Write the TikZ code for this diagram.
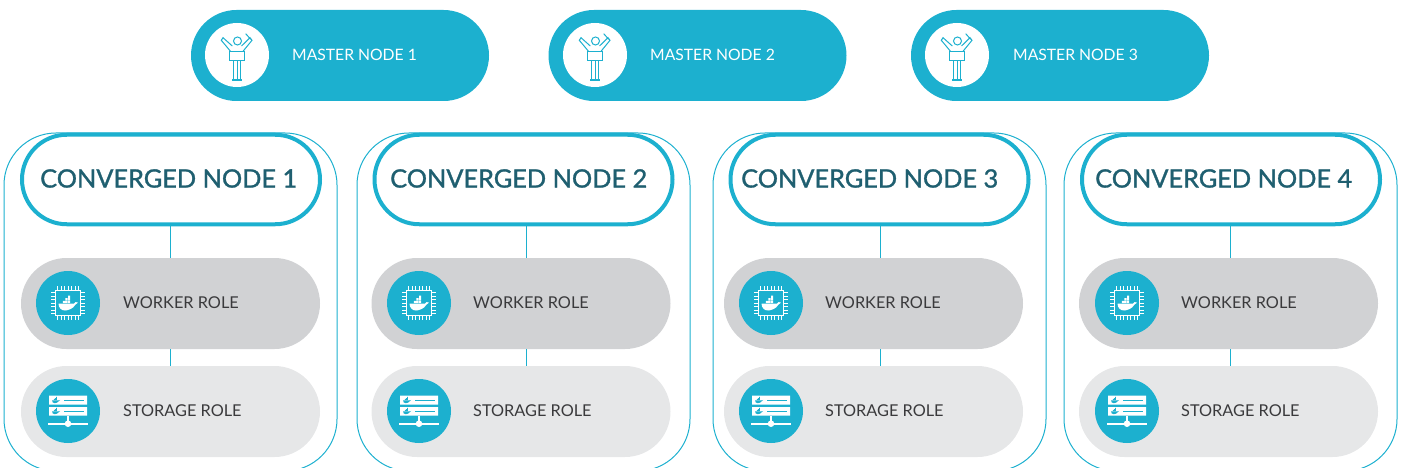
\documentclass[tikz,border=0pt]{standalone}
\usepackage{fontspec}
\setmainfont{Lato}
\newfontfamily\headfont{Lato}[BoldFont={Lato},BoldFeatures={FakeBold=1.2}]
\usetikzlibrary{shapes.misc}
\definecolor{teal}{HTML}{1CB0CF}
\definecolor{headtext}{HTML}{1F5F70}
\definecolor{roletext}{HTML}{3A3A3C}
\definecolor{workgrey}{HTML}{D1D2D4}
\definecolor{storegrey}{HTML}{E6E7E8}
\tikzset{
  pill/.style={rounded rectangle, rounded rectangle arc length=180, inner sep=0pt, outer sep=0pt},
  masterpill/.style={pill, fill=teal, minimum width=298, minimum height=91},
  convpill/.style={pill, draw=teal, line width=4, fill=white, minimum width=298, minimum height=89.5},
  workpill/.style={pill, fill=workgrey, minimum width=299, minimum height=91},
  storepill/.style={pill, fill=storegrey, minimum width=299, minimum height=91},
  frame/.style={draw=teal, line width=1, rounded corners=52},
  badge/.style={circle, fill=teal, minimum size=64, inner sep=0pt},
  whitebadge/.style={circle, fill=white, minimum size=64, inner sep=0pt},
  mastertext/.style={anchor=west, inner sep=0pt, text=white, font=\fontsize{15.7}{18}\selectfont},
  convtext/.style={anchor=west, inner sep=0pt, text=headtext, font=\headfont\bfseries\fontsize{25.3}{30}\selectfont},
  roletext/.style={anchor=west, inner sep=0pt, text=roletext, font=\fontsize{16.3}{18}\selectfont},
  link/.style={draw=teal, line width=1},
  whale/.pic={
    \fill[pic actions] (-9.5,0) -- (6,0) .. controls (6.5,1.6) and (8.5,2) .. (10,0.8)
      .. controls (9.5,-0.6) and (8.5,-1) .. (7.5,-1)
      .. controls (5.5,-5) and (0,-7) .. (-3,-7)
      .. controls (-7,-7) and (-9.5,-4) .. (-9.5,0) -- cycle;
    \fill[pic actions] (-5.2,0.5) rectangle (-3,2.7) (-2.6,0.5) rectangle (-0.4,2.7) (0,0.5) rectangle (2.2,2.7)
      (-2.6,3.1) rectangle (-0.4,5.3) (0,3.1) rectangle (2.2,5.3) (0,5.7) rectangle (2.2,7.9);
  },
  chipicon/.pic={
    \draw[white, line width=1.2] (-12.5,-12.5) rectangle (12.5,12.5);
    \foreach \k in {-10.5,-7,-3.5,0,3.5,7,10.5}{
      \draw[white, line width=1] (\k,12.5) -- (\k,17) (\k,-12.5) -- (\k,-17);
      \draw[white, line width=1] (-12.5,\k) -- (-17,\k) (12.5,\k) -- (17,\k);
    }
    \pic[white] at (0,-0.5) {whale};
  },
  storeicon/.pic={
    \fill[white] (-19,6.3) rectangle (19,15.3) (-19,-4.7) rectangle (19,4);
    \draw[teal, line width=1.3] (-4,10.7) -- (16,10.7) (-4,-0.3) -- (16,-0.3);
    \pic[teal, scale=0.42] at (-12,10.7) {whale};
    \pic[teal, scale=0.42] at (-12,-0.3) {whale};
    \draw[white, line width=2] (0,-4.7) -- (0,-12.7) (-20,-12.7) -- (20,-12.7);
    \fill[white] (0,-12.7) circle (3.3);
  },
  personicon/.pic={
    \draw[teal, line width=1] (0.5,14) circle (4);
    \draw[teal, line width=1] (-7.5,-5.3) rectangle (7,3.7);
    \draw[teal, line width=1] (-6.5,3.7) -- (-15.7,14.7) -- (-14,17.3) -- (-4.7,9)
      (6,3.7) -- (15,14.7) -- (13,17.3) -- (4.5,9) (8.7,21.3) -- (13.7,15.7);
    \draw[teal, line width=1] (-3.7,-5.3) -- (-3.7,-24) (3.7,-5.3) -- (3.7,-24) (0,-5.3) -- (0,-24);
    \draw[teal, line width=1.5] (-5,-25) -- (5,-25);
  },
}
\begin{document}
\begin{tikzpicture}[x=1pt, y=1pt]
  \useasboundingbox (0,0) rectangle (1403,-468);

  % master nodes
  \node[masterpill] (master1) at (340,-55.5) {};
  \node[masterpill] (master2) at (697.5,-55.5) {};
  \node[masterpill] (master3) at (1060,-55.5) {};
  \node[whitebadge] (person1) at (237,-55) {};
  \node[whitebadge] (person2) at (595,-55) {};
  \node[whitebadge] (person3) at (957,-55) {};
  \pic at (person1) {personicon};
  \pic at (person2) {personicon};
  \pic at (person3) {personicon};
  \node[mastertext] (mlabel1) at (292,-54.5) {MASTER NODE 1};
  \node[mastertext] (mlabel2) at (650,-54.5) {MASTER NODE 2};
  \node[mastertext] (mlabel3) at (1013,-54.5) {MASTER NODE 3};

  % outer frames
  \draw[frame] (4,-133) rectangle (337,-471);
  \draw[frame] (357,-133) rectangle (690,-471);
  \draw[frame] (713,-133) rectangle (1046,-471);
  \draw[frame] (1064,-133) rectangle (1397,-471);

  % converged nodes
  \node[convpill] (conv1) at (171,-179.5) {};
  \node[convpill] (conv2) at (523.5,-179.5) {};
  \node[convpill] (conv3) at (879.5,-179.5) {};
  \node[convpill] (conv4) at (1231,-179.5) {};
  \node[convtext] (clabel1) at (40,-178.5) {CONVERGED NODE 1};
  \node[convtext] (clabel2) at (390,-178.5) {CONVERGED NODE 2};
  \node[convtext] (clabel3) at (741,-178.5) {CONVERGED NODE 3};
  \node[convtext] (clabel4) at (1095,-178.5) {CONVERGED NODE 4};

  % worker roles
  \node[workpill] (work1) at (170.5,-303.5) {};
  \node[workpill] (work2) at (521,-303.5) {};
  \node[workpill] (work3) at (873.5,-303.5) {};
  \node[workpill] (work4) at (1228.5,-303.5) {};
  \node[badge] (chip1) at (68,-303) {};
  \node[badge] (chip2) at (419,-303) {};
  \node[badge] (chip3) at (771,-303) {};
  \node[badge] (chip4) at (1127,-303) {};
  \pic at (chip1) {chipicon};
  \pic at (chip2) {chipicon};
  \pic at (chip3) {chipicon};
  \pic at (chip4) {chipicon};
  \node[roletext] (wlabel1) at (123,-303) {WORKER ROLE};
  \node[roletext] (wlabel2) at (473,-303) {WORKER ROLE};
  \node[roletext] (wlabel3) at (825,-303) {WORKER ROLE};
  \node[roletext] (wlabel4) at (1181,-303) {WORKER ROLE};

  % storage roles
  \node[storepill] (store1) at (170.5,-411.5) {};
  \node[storepill] (store2) at (521,-411.5) {};
  \node[storepill] (store3) at (873.5,-411.5) {};
  \node[storepill] (store4) at (1228.5,-411.5) {};
  \node[badge] (disk1) at (68,-411) {};
  \node[badge] (disk2) at (419,-411) {};
  \node[badge] (disk3) at (771,-411) {};
  \node[badge] (disk4) at (1127,-411) {};
  \pic at (disk1) {storeicon};
  \pic at (disk2) {storeicon};
  \pic at (disk3) {storeicon};
  \pic at (disk4) {storeicon};
  \node[roletext] (slabel1) at (123,-411) {STORAGE ROLE};
  \node[roletext] (slabel2) at (473,-411) {STORAGE ROLE};
  \node[roletext] (slabel3) at (825,-411) {STORAGE ROLE};
  \node[roletext] (slabel4) at (1181,-411) {STORAGE ROLE};

  % links
  \coordinate (axis1) at (170.5,0);
  \coordinate (axis2) at (526.5,0);
  \coordinate (axis3) at (880,0);
  \coordinate (axis4) at (1230,0);
  \draw[link] (axis1 |- conv1.south) -- (axis1 |- work1.north);
  \draw[link] (axis2 |- conv2.south) -- (axis2 |- work2.north);
  \draw[link] (axis3 |- conv3.south) -- (axis3 |- work3.north);
  \draw[link] (axis4 |- conv4.south) -- (axis4 |- work4.north);
  \draw[link] (axis1 |- work1.south) -- (axis1 |- store1.north);
  \draw[link] (axis2 |- work2.south) -- (axis2 |- store2.north);
  \draw[link] (axis3 |- work3.south) -- (axis3 |- store3.north);
  \draw[link] (axis4 |- work4.south) -- (axis4 |- store4.north);
\end{tikzpicture}
\end{document}
